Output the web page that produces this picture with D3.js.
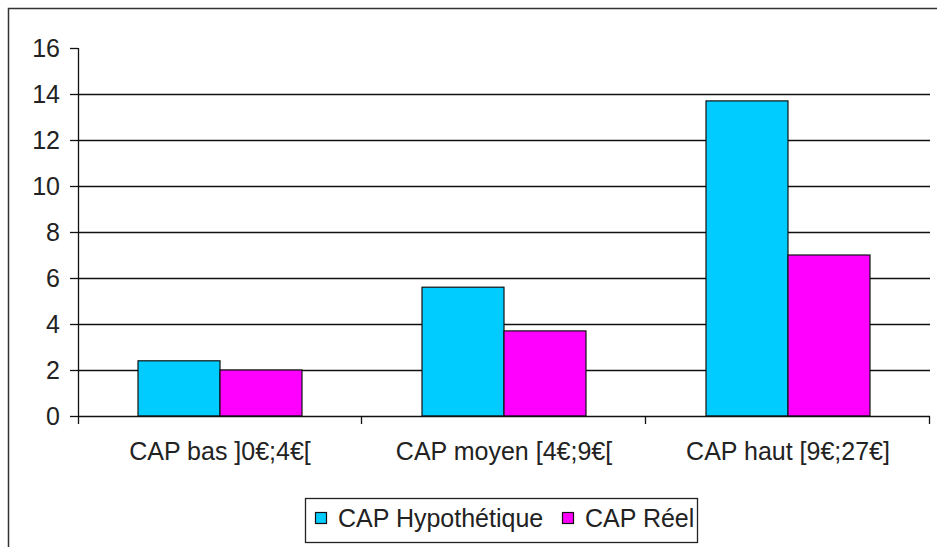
<!DOCTYPE html>
<html>
<head>
<meta charset="utf-8">
<script src="https://cdn.jsdelivr.net/npm/d3@7"></script>
<style>
  body { margin: 0; background: #fff; }
  svg text { font-family: Arial, "Liberation Sans", sans-serif; fill: #222; }
</style>
</head>
<body>
<div class="chart"></div>
<script>
var svgWidth = 937;
var svgHeight = 547;

// data
var categories = ["CAP bas ]0€;4€[", "CAP moyen [4€;9€[", "CAP haut [9€;27€]"];
var seriesNames = ["CAP Hypothétique", "CAP Réel"];
var hypothetique = [2.4, 5.6, 13.7];
var reel = [2.0, 3.7, 7.0];
var yTicks = [0, 2, 4, 6, 8, 10, 12, 14, 16];
var colors = ["#00CCFF", "#FF00FF"];

var svg = d3.select(".chart")
  .append("svg")
  .attr("width", svgWidth)
  .attr("height", svgHeight);

// outer frame (runs off the right and bottom of the picture)
svg.append("path")
  .attr("d", "M8.5," + svgHeight + "V8.5H" + svgWidth)
  .attr("fill", "none")
  .attr("stroke", "#333")
  .attr("stroke-width", 1.5);

var plotLeft = 78, plotRight = 930, plotTop = 48, plotBottom = 416;

var x0 = d3.scaleBand()
  .domain(categories)
  .range([plotLeft, plotRight])
  .padding(0);

var x1 = d3.scaleBand()
  .domain(seriesNames)
  .range([0, x0.bandwidth()])
  .paddingInner(0)
  .paddingOuter(0.732);

var y = d3.scaleLinear()
  .domain([0, 16])
  .range([plotBottom, plotTop]);

// gridlines
svg.append("g")
  .selectAll("line")
  .data(yTicks.filter(d => d > 0 && d < 16))
  .enter()
  .append("line")
  .attr("x1", plotLeft)
  .attr("x2", plotRight)
  .attr("y1", d => Math.round(y(d)) + 0.5)
  .attr("y2", d => Math.round(y(d)) + 0.5)
  .attr("stroke", "#111")
  .attr("stroke-width", 1.3);

// bars
var rows = categories.map((c, i) => ({cat: c, values: [hypothetique[i], reel[i]]}));

var groups = svg.append("g")
  .selectAll("g")
  .data(rows)
  .enter()
  .append("g")
  .attr("transform", d => `translate(${x0(d.cat)},0)`);

groups.selectAll("rect")
  .data(d => d.values.map((v, j) => ({name: seriesNames[j], value: v, j: j})))
  .enter()
  .append("rect")
  .attr("x", d => x1(d.name))
  .attr("y", d => y(d.value))
  .attr("width", x1.bandwidth())
  .attr("height", d => y(0) - y(d.value))
  .attr("fill", d => colors[d.j])
  .attr("stroke", "#111")
  .attr("stroke-width", 1.2);

// y axis
var leftAxis = d3.axisLeft(y)
  .tickValues(yTicks)
  .tickSize(8)
  .tickPadding(10)
  .tickSizeOuter(0);

var yAxisG = svg.append("g")
  .attr("transform", `translate(${plotLeft},0)`)
  .call(leftAxis);
yAxisG.select(".domain").remove();
yAxisG.selectAll("line").attr("stroke", "#111").attr("stroke-width", 1.3);
yAxisG.selectAll("text")
  .style("font-size", "25px")
  .attr("fill", "#222");

// y axis line goes down past the baseline
svg.append("line")
  .attr("x1", plotLeft + 0.5).attr("x2", plotLeft + 0.5)
  .attr("y1", plotTop).attr("y2", plotBottom + 8)
  .attr("stroke", "#111").attr("stroke-width", 1.3);

// x axis baseline with ticks at category boundaries
svg.append("line")
  .attr("x1", plotLeft).attr("x2", plotRight)
  .attr("y1", plotBottom + 0.5).attr("y2", plotBottom + 0.5)
  .attr("stroke", "#111").attr("stroke-width", 1.3);

var bounds = categories.map(c => x0(c)).concat([plotRight]);
svg.append("g")
  .selectAll("line")
  .data(bounds.slice(1))
  .enter()
  .append("line")
  .attr("x1", d => d - 0.5).attr("x2", d => d - 0.5)
  .attr("y1", plotBottom).attr("y2", plotBottom + 8)
  .attr("stroke", "#111").attr("stroke-width", 1.3);

// category labels
var bottomAxis = d3.axisBottom(x0).tickSize(0).tickPadding(26);
var xAxisG = svg.append("g")
  .attr("transform", `translate(0,${plotBottom})`)
  .call(bottomAxis);
xAxisG.select(".domain").remove();
xAxisG.selectAll("text")
  .style("font-size", "25px")
  .attr("fill", "#222");

// legend
var legend = svg.append("g");
legend.append("rect")
  .attr("x", 305.5).attr("y", 498.5)
  .attr("width", 392).attr("height", 44)
  .attr("fill", "#fff")
  .attr("stroke", "#222")
  .attr("stroke-width", 1.3);

var legendX = [315, 562];
seriesNames.forEach(function(name, i) {
  legend.append("rect")
    .attr("x", legendX[i] + 0.5).attr("y", 512.5)
    .attr("width", 11).attr("height", 11)
    .attr("fill", colors[i])
    .attr("stroke", "#111")
    .attr("stroke-width", 1.2);
  legend.append("text")
    .attr("x", legendX[i] + 23)
    .attr("y", 527)
    .style("font-size", "25px")
    .text(name);
});
</script>
</body>
</html>
